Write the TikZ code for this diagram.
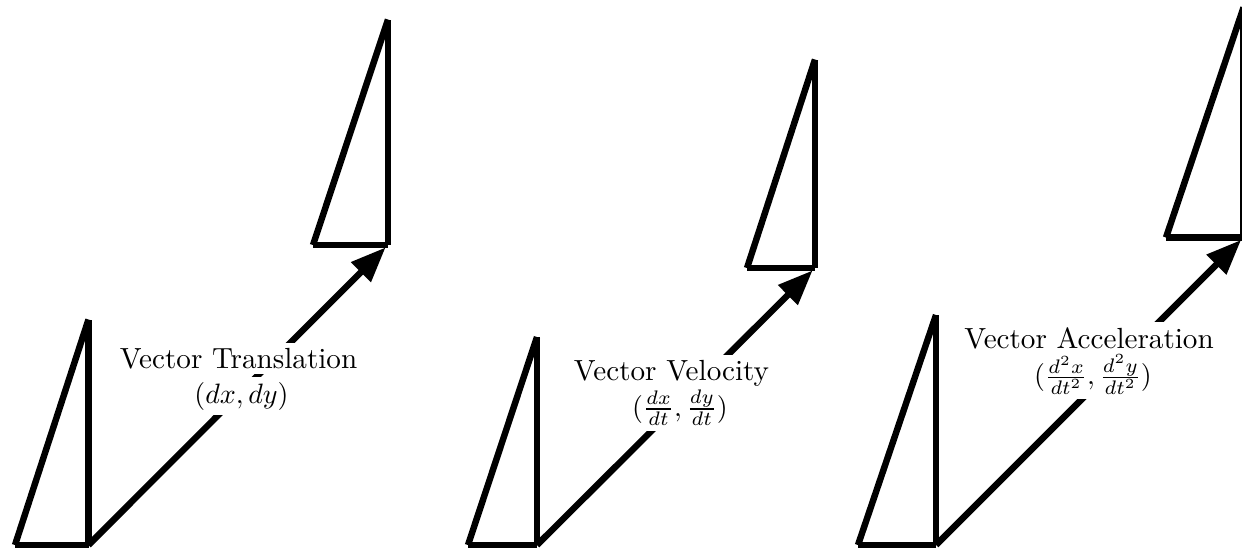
\documentclass[tikz,border=0pt]{standalone}
\usetikzlibrary{arrows.meta}
\begin{document}
\begin{tikzpicture}[x=0.357pt,y=-0.357pt,
  edge/.style={line width=2.3pt, line cap=butt},
  vec/.style={line width=2.3pt, -{Triangle[length=12.5pt,width=9.5pt]}, shorten >=1.2pt},
  lbl/.style={fill=white, inner sep=1.8pt, anchor=base, font=\fontsize{10.4pt}{12.5pt}\selectfont}]
\useasboundingbox (0,0) rectangle (1242,549);
% ---------- panel 1 ----------
\coordinate (a1) at (15,545);
\coordinate (b1) at (88.5,545);
\coordinate (c1) at (88.5,319.5);
\coordinate (a1t) at (313,245);
\coordinate (b1t) at (388,245);
\coordinate (c1t) at (388,19.5);
% ---------- panel 2 ----------
\coordinate (a2) at (468,545);
\coordinate (b2) at (537,545);
\coordinate (c2) at (537,337);
\coordinate (a2t) at (747,268);
\coordinate (b2t) at (815,268);
\coordinate (c2t) at (815,59.5);
% ---------- panel 3 ----------
\coordinate (a3) at (858,545);
\coordinate (b3) at (936,545);
\coordinate (c3) at (936,315);
\coordinate (a3t) at (1166,237.5);
\coordinate (b3t) at (1243.5,237.5);
\coordinate (c3t) at (1243.5,7.5);
% triangles
\foreach \p in {1,2,3}{
  \foreach \s in {,t}{
    \draw[edge] (a\p\s) -- (b\p\s);
    \draw[edge] (b\p\s) -- (c\p\s);
    \draw[edge] (a\p\s) -- (c\p\s);
  }
}
% vectors
\draw[vec] (b1) -- (b1t);
\draw[vec] (b2) -- (b2t);
\draw[vec] (b3) -- (b3t);
% labels
\node[lbl] (l1a) at (238.5,368) {Vector Translation};
\node[lbl] (l1b) at (241.5,403) {$(dx,dy)$};
\node[lbl] (l2a) at (671.5,380) {Vector Velocity};
\node[lbl] (l2b) at (680,416) {$(\frac{dx}{dt},\frac{dy}{dt})$};
\node[lbl] (l3a) at (1089,348) {Vector Acceleration};
\node[lbl] (l3b) at (1093,384.5) {$(\frac{d^2x}{dt^2},\frac{d^2y}{dt^2})$};
\end{tikzpicture}
\end{document}
